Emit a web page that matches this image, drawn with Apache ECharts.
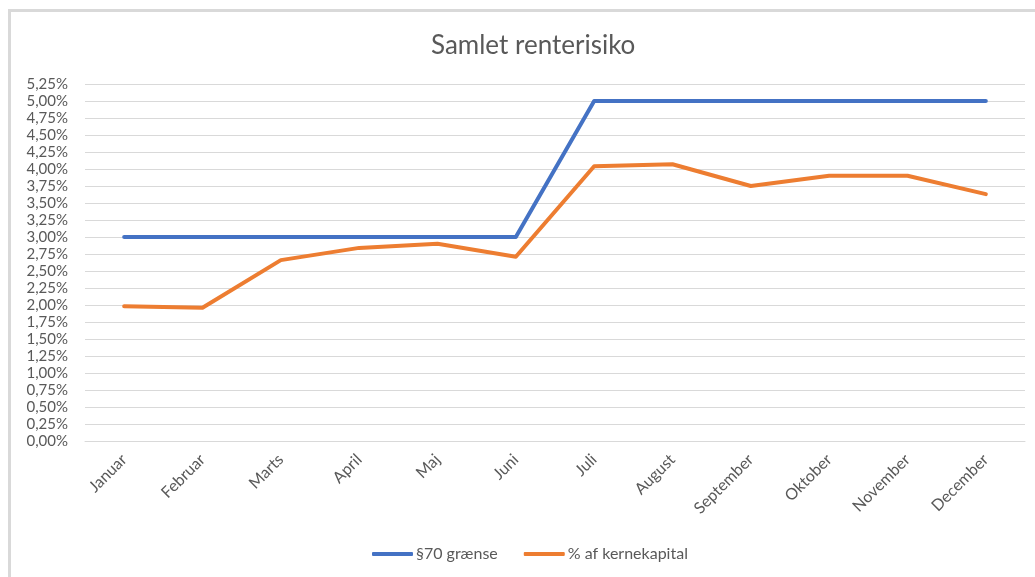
<!DOCTYPE html>
<html>
<head>
<meta charset="utf-8">
<script src="https://cdn.jsdelivr.net/npm/echarts@6/dist/echarts.min.js"></script>
<style>
	html, body { margin: 0; padding: 0; background: #fff; }
	#frame { position: absolute; left: 8px; top: 9px; width: 1027px; height: 568px;
		border-left: 3px solid #d9d9d9; border-top: 3px solid #d9d9d9; box-sizing: border-box; }
	#chart { position: absolute; left: 0; top: 0; width: 1035px; height: 577px; }
</style>
</head>
<body>
<div id="frame"></div>
<div id="chart"></div>
<script>
var months = ['Januar', 'Februar', 'Marts', 'April', 'Maj', 'Juni', 'Juli', 'August', 'September', 'Oktober', 'November', 'December'];
// §70 grænse
var graense = [3.00, 3.00, 3.00, 3.00, 3.00, 3.00, 5.00, 5.00, 5.00, 5.00, 5.00, 5.00];
// % af kernekapital
var kernekapital = [1.98, 1.96, 2.66, 2.84, 2.90, 2.71, 4.04, 4.07, 3.75, 3.90, 3.90, 3.63];

var font = 'Lato, "Open Sans", sans-serif';
var chart = echarts.init(document.getElementById('chart'));
var option = {
	animation: false,
	textStyle: { fontFamily: font },
	title: {
		text: 'Samlet renterisiko',
		left: 426,
		top: 28,
		textStyle: { fontSize: 26, fontWeight: 'normal', color: '#595959', fontFamily: font }
	},
	legend: {
		bottom: 10,
		left: 367,
		itemWidth: 41,
		itemHeight: 4,
		itemGap: 26,
		icon: 'roundRect',
		textStyle: { fontSize: 16, color: '#595959', fontFamily: font, padding: [0, 0, 0, -2] },
		data: ['§70 grænse', '% af kernekapital']
	},
	grid: { left: 85, right: 10, top: 84, bottom: 136, containLabel: false },
	xAxis: {
		type: 'category',
		data: months,
		boundaryGap: true,
		axisLine: { show: true, lineStyle: { color: '#d9d9d9' } },
		axisTick: { show: false },
		axisLabel: { rotate: 45, fontSize: 16, color: '#595959', margin: 16, fontFamily: font }
	},
	yAxis: {
		type: 'value',
		min: 0,
		max: 5.25,
		interval: 0.25,
		axisLine: { show: false },
		axisTick: { show: false },
		splitLine: { lineStyle: { color: '#d9d9d9', width: 1 } },
		axisLabel: {
			fontSize: 15, color: '#595959', margin: 17, fontFamily: font,
			formatter: function (v) { return v.toFixed(2).replace('.', ',') + '%'; }
		}
	},
	series: [{
		name: '§70 grænse',
		type: 'line',
		data: graense,
		symbol: 'none',
		itemStyle: { color: '#4472c4' },
		lineStyle: { color: '#4472c4', width: 4, cap: 'round', join: 'round' }
	}, {
		name: '% af kernekapital',
		type: 'line',
		data: kernekapital,
		symbol: 'none',
		itemStyle: { color: '#ed7d31' },
		lineStyle: { color: '#ed7d31', width: 4, cap: 'round', join: 'round' }
	}]
};
chart.setOption(option);
</script>
</body>
</html>
